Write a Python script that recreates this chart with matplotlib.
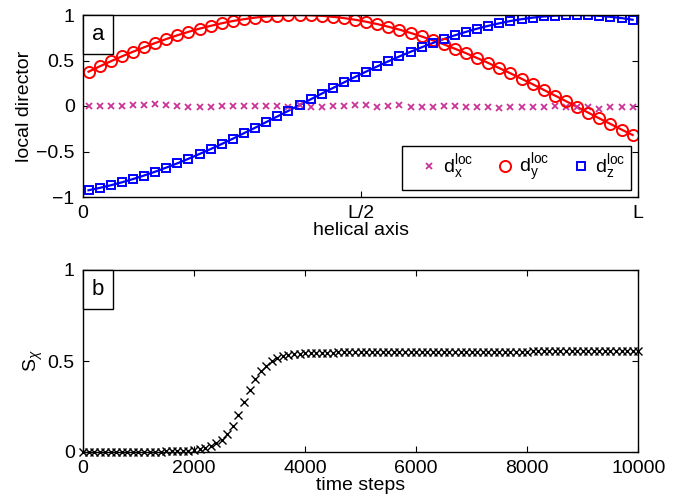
import numpy as np
import matplotlib
matplotlib.use('Agg')
import matplotlib.pyplot as plt
from matplotlib.offsetbox import AnchoredText

# panel a: local director components along the helical axis
pos = np.linspace(0.01, 0.99, 50)
dx = [0, 0, 0, 0, 0.007, 0.007, 0.022, 0.007, 0, -0.007, -0.007, -0.015, 0, 0, 0, 0,
      0, 0, -0.007, 0.007, -0.007, -0.007, 0, 0, 0.007, 0.015, -0.007, 0, 0.007, -0.015,
      -0.007, -0.007, 0, 0, -0.007, -0.007, -0.015, -0.022, -0.007, -0.007, -0.007, -0.007,
      0, -0.007, -0.015, -0.015, -0.029, -0.007, -0.007, -0.007]
dy = [0.377, 0.435, 0.491, 0.545, 0.596, 0.645, 0.692, 0.736, 0.777, 0.815, 0.850, 0.881,
      0.909, 0.934, 0.954, 0.971, 0.984, 0.993, 0.999, 1.000, 0.997, 0.991, 0.980, 0.966,
      0.948, 0.926, 0.900, 0.871, 0.839, 0.803, 0.764, 0.722, 0.677, 0.629, 0.580, 0.527,
      0.473, 0.416, 0.359, 0.299, 0.239, 0.177, 0.115, 0.053, -0.010, -0.073, -0.136,
      -0.197, -0.259, -0.319]
dz = [-0.926, -0.900, -0.871, -0.839, -0.803, -0.764, -0.722, -0.677, -0.630, -0.580,
      -0.527, -0.473, -0.417, -0.359, -0.299, -0.239, -0.177, -0.115, -0.053, 0.010,
      0.073, 0.136, 0.197, 0.259, 0.319, 0.378, 0.435, 0.491, 0.545, 0.596, 0.645, 0.692,
      0.736, 0.777, 0.815, 0.850, 0.881, 0.909, 0.934, 0.954, 0.971, 0.984, 0.993, 0.999,
      1.000, 0.997, 0.991, 0.980, 0.966, 0.948]
xticks_a = [0, 0.5, 1]
xticklabels_a = ['0', 'L/2', 'L']

# panel b: order parameter vs time steps
steps = np.arange(0, 10001, 100)
s_chi = ([0.000] * 11 +
         [0.001, 0.001, 0.002, 0.002, 0.003, 0.004, 0.005, 0.006, 0.008] +
         [0.011, 0.016, 0.024, 0.034, 0.048, 0.067, 0.098, 0.145, 0.205, 0.275, 0.340,
          0.400, 0.445, 0.475, 0.500, 0.515, 0.527, 0.534, 0.538, 0.541, 0.543] +
         [0.544, 0.545, 0.545, 0.546, 0.546, 0.547, 0.547, 0.547, 0.548, 0.548] +
         [0.548, 0.549, 0.549, 0.549, 0.549, 0.550, 0.550, 0.550, 0.550, 0.550] +
         [0.551] * 10 + [0.552] * 10 + [0.553] * 10 +
         [0.554, 0.554, 0.554, 0.555, 0.555, 0.555, 0.555, 0.556, 0.556, 0.556])

plt.rcParams['font.family'] = ['Liberation Sans', 'DejaVu Sans']
plt.rcParams['mathtext.fontset'] = 'custom'
plt.rcParams['mathtext.rm'] = 'Liberation Sans'
plt.rcParams['mathtext.it'] = 'Liberation Sans:italic'

fig = plt.figure(figsize=(6.88, 5.0), dpi=100)
ax1 = fig.add_axes([0.1206, 0.606, 0.807, 0.364])
ax2 = fig.add_axes([0.1206, 0.096, 0.807, 0.364])

magenta = '#cc3399'
ax1.plot(pos, dy, '-', color='red', lw=1.6)
ax1.plot(pos, dz, '-', color='blue', lw=1.6)
ax1.plot(pos, dx, 'x', color=magenta, ms=5, mew=1.3, label=r'$\mathregular{d_x^{loc}}$')
ax1.plot(pos, dy, 'o', color='red', mfc='none', ms=8, mew=1.4, label=r'$\mathregular{d_y^{loc}}$')
ax1.plot(pos, dz, 's', color='blue', mfc='none', ms=6, mew=1.4, label=r'$\mathregular{d_z^{loc}}$')

ax1.set_xlim(0, 1)
ax1.set_ylim(-1, 1)
ax1.set_xticks(xticks_a)
ax1.set_xticklabels(xticklabels_a)
ax1.set_yticks([-1, -0.5, 0, 0.5, 1])
ax1.set_yticklabels(['\u22121', '\u22120.5', '0', '0.5', '1'])
ax1.set_xlabel('helical axis', fontsize=14, labelpad=0)
ax1.set_ylabel('local director', fontsize=14, labelpad=2)
leg = ax1.legend(loc='lower right', ncol=3, fontsize=14, fancybox=False, edgecolor='black',
                 framealpha=1, handlelength=2.2, handletextpad=-0.38, columnspacing=0.55,
                 borderaxespad=0.35, borderpad=0.3)
leg.get_frame().set_linewidth(1.0)

ax2.plot(steps, s_chi, 'x', color='black', ms=5.5, mew=1.0, clip_on=False)
ax2.set_xlim(0, 10000)
ax2.set_ylim(0, 1)
ax2.set_xticks([0, 2000, 4000, 6000, 8000, 10000])
ax2.set_yticks([0, 0.5, 1])
ax2.set_yticklabels(['0', '0.5', '1'])
ax2.set_xlabel('time steps', fontsize=14, labelpad=0)
ax2.set_ylabel(r'$\mathregular{S}_{\chi}$', fontsize=14, labelpad=2)

for ax, tag in [(ax1, 'a'), (ax2, 'b')]:
    ax.tick_params(direction='in', top=True, right=True, labelsize=14, length=4,
                   width=0.8, pad=6)
    for sp in ax.spines.values():
        sp.set_linewidth(1.0)
    at = AnchoredText(tag, loc='upper left', prop=dict(size=16), frameon=True,
                      pad=0.4, borderpad=0)
    at.patch.set_boxstyle('square,pad=0')
    at.patch.set_linewidth(1.0)
    ax.add_artist(at)

fig.savefig('out.png', dpi=100)
